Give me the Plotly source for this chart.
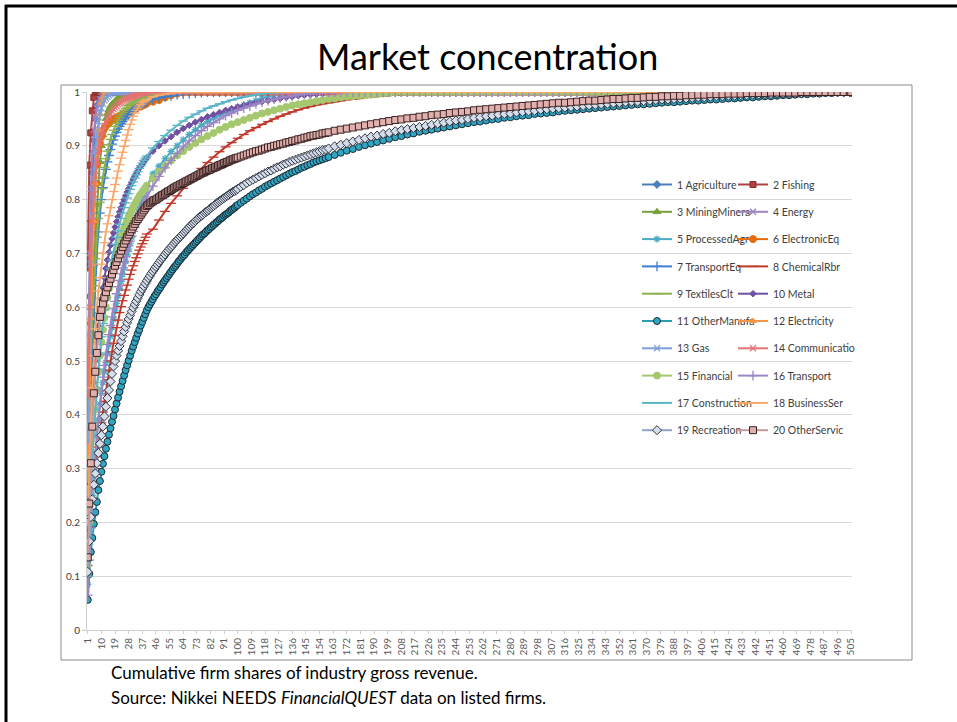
import plotly.graph_objects as go

# Ranks drawn for most industries: every firm up to rank 40, then every 4th rank.
RANKS = list(range(1, 41)) + list(range(44, 505, 4)) + [505]
# Ranks drawn for the three large industries: every firm to 100, every 2nd to 160, then every 4th.
RANKS_FINE = list(range(1, 101)) + list(range(102, 161, 2)) + list(range(164, 505, 4)) + [505]
TICK_RANKS = list(range(1, 506, 9))
TICK_LABELS = [str(r) for r in TICK_RANKS]

NAMES = [
    "1 Agriculture", "2 Fishing", "3 MiningMinera", "4 Energy", "5 ProcessedAgr",
    "6 ElectronicEq", "7 TransportEq", "8 ChemicalRbr", "9 TextilesClt", "10 Metal",
    "11 OtherManufa", "12 Electricity", "13 Gas", "14 Communicatio", "15 Financial",
    "16 Transport", "17 Construction", "18 BusinessSer", "19 Recreation", "20 OtherServic",
]

# Cumulative share of industry gross revenue (thousandths) at each drawn rank.
# Once every firm of an industry is counted the share stays at 1.
AGRICULTURE = [397, 620, 760, 850, 910, 950, 975, 990, 1000]
FISHING = [673, 864, 924, 965, 990, 1000]
MINING = [311, 450, 550, 620, 680, 735, 790, 830, 870, 900, 920, 935, 950, 960, 967, 973, 977, 980,
          983, 986, 988, 990, 992, 993, 994, 995, 996, 997, 998, 998, 999, 999, 1000]
ENERGY = [480, 700, 820, 890, 930, 955, 970, 980, 987, 992, 995, 997, 998, 999, 1000]
PROCESSED_AGR = [85, 150, 200, 250, 290, 330, 360, 390, 420, 440, 460, 480, 497, 513, 530, 546, 562, 578,
                 593, 607, 621, 635, 648, 661, 673, 685, 697, 708, 719, 730, 741, 752, 762, 772, 782, 791,
                 800, 808, 816, 824,
                 848, 862, 876, 889, 900, 911, 921, 930, 938, 945, 951, 957, 962, 967, 972, 976, 980, 984,
                 988, 991, 994, 996, 998, 999, 1000]
ELECTRONIC_EQ = [230, 420, 570, 670, 760, 830, 865, 890, 905, 917, 927, 933, 937, 940, 943, 945, 947, 949,
                 951, 952, 954, 955, 957, 958, 959, 961, 962, 963, 965, 966, 967, 968, 970, 971, 972, 973,
                 975, 976, 977, 979,
                 982, 985, 990, 994, 997, 999, 1000]
TRANSPORT_EQ = [180, 320, 430, 520, 590, 650, 700, 740, 775, 800, 822, 840, 856, 870, 882, 893, 903, 911,
                918, 925, 931, 936, 941, 945, 949, 953, 956, 959, 962, 965, 967, 969, 971, 973, 975, 977,
                978, 980, 981, 982,
                986, 989, 991, 993, 995, 996, 997, 998, 999, 1000]
CHEMICAL = [120, 170, 210, 245, 275, 300, 322, 340, 365, 385, 405, 425, 445, 465, 483, 500, 517, 533,
            548, 562, 576, 590, 601, 612, 622, 632, 641, 652, 661, 669, 677, 685, 692, 699, 706, 712,
            718, 724, 730, 736,
            745, 762, 778, 793, 807, 821, 834, 846, 858, 869, 879, 889, 898, 906, 914, 921, 928, 934,
            940, 945, 950, 955, 959, 963, 967, 970, 973, 976, 978, 980, 982, 984, 986, 987, 988, 990,
            991, 992, 993, 994, 995, 996, 997, 998, 998, 999, 999, 1000]
TEXTILES = [250, 400, 500, 580, 640, 690, 730, 765, 795, 820, 842, 860, 876, 890, 902, 912, 921, 929,
            936, 942, 948, 953, 958, 962, 966, 969, 972, 975, 977, 979, 981, 983, 985, 986, 987, 988,
            989, 990, 991, 992,
            995, 997, 998, 999, 1000]
METAL = [160, 270, 350, 410, 460, 500, 535, 565, 592, 615, 636, 655, 672, 688, 702, 715, 727, 738,
         749, 759, 768, 777, 785, 793, 800, 807, 814, 820, 826, 832, 838, 843, 848, 853, 858, 862,
         866, 870, 874, 878,
         890, 900, 909, 917, 925, 932, 938, 944, 949, 954, 958, 962, 966, 969, 972, 975, 978, 980,
         982, 984, 986, 988, 990, 991, 993, 994, 995, 996, 997, 998, 999, 1000]
OTHER_MANUFA = [56, 104, 145, 171, 197, 219, 238, 260, 277, 294, 309, 323, 337, 350, 363, 375, 387, 398,
                410, 421, 432, 443, 453, 463, 473, 483, 492, 501, 510, 519, 527, 535, 543, 551, 558, 566,
                573, 580, 587, 594,
                600, 605, 610, 615, 620, 624, 629, 633, 637, 642, 646, 650, 654, 658, 662, 666, 670, 674,
                677, 681, 685, 688, 692, 695, 698, 702, 705, 708, 711, 714, 717, 720, 723, 726, 729, 732,
                735, 737, 740, 743, 745, 748, 750, 753, 755, 758, 760, 763, 765, 767, 770, 772, 774, 776,
                779, 781, 783, 785, 788, 790,
                794, 798, 802, 806, 810, 813, 817, 820, 824, 827, 830, 833, 836, 839, 842, 845, 848, 851,
                853, 856, 859, 861, 864, 866, 869, 871, 873, 875, 877, 879,
                883, 887, 891, 894, 898, 901, 904, 907, 910, 913,
                916, 918, 921, 923, 926, 928, 930, 932, 934, 936,
                938, 940, 942, 944, 945, 947, 949, 950, 952, 953,
                955, 956, 957, 959, 960, 961, 962, 964, 965, 966,
                967, 968, 969, 970, 971, 972, 973, 974, 975, 976,
                977, 977, 978, 979, 980, 981, 981, 982, 983, 984,
                984, 985, 986, 986, 987, 988, 988, 989, 990, 990,
                991, 992, 992, 993, 994, 994, 995, 996, 996, 997,
                997, 998, 998, 999, 999, 1000]
ELECTRICITY = [300, 450, 580, 680, 760, 830, 890, 930, 960, 980, 990, 1000]
GAS = [350, 550, 680, 770, 840, 890, 920, 945, 960, 970, 978, 984, 988, 991, 994, 996, 998, 999, 1000]
COMMUNICATION = [434, 600, 700, 760, 810, 845, 870, 890, 905, 918, 928, 937, 944, 950, 955, 960, 964, 968,
                 971, 974, 977, 979, 981, 983, 985, 987, 988, 989, 990, 991, 992, 993, 994, 995, 996, 997,
                 998, 998, 999, 999, 1000]
FINANCIAL = [120, 200, 265, 320, 370, 410, 447, 480, 510, 535, 558, 580, 600, 618, 635, 651, 666, 680,
             692, 703, 713, 722, 731, 739, 747, 754, 761, 768, 774, 780, 786, 791, 796, 801, 806, 810,
             814, 818, 822, 826,
             840, 852, 863, 873, 882, 890, 898, 905, 912, 918, 924, 930, 935, 940, 944, 948, 952, 956,
             960, 963, 966, 969, 972, 975, 977, 979, 981, 983, 985, 987, 988, 990, 991, 992, 993, 994,
             995, 996, 997, 998, 999, 1000]
TRANSPORT = [65, 130, 190, 240, 285, 325, 360, 392, 420, 446, 470, 492, 512, 531, 549, 566, 582, 597,
             611, 625, 638, 650, 662, 673, 684, 694, 704, 714, 723, 732, 741, 749, 757, 765, 772, 779,
             786, 793, 799, 805,
             825, 843, 859, 873, 886, 898, 909, 919, 928, 936, 943, 950, 956, 961, 966, 970, 974, 978,
             981, 984, 987, 989, 991, 993, 995, 996, 997, 998, 999, 1000]
CONSTRUCTION = [100, 180, 250, 310, 365, 410, 450, 485, 515, 545, 570, 595, 617, 637, 655, 672, 688, 703,
                717, 730, 742, 754, 765, 775, 785, 794, 803, 811, 819, 826, 833, 840, 846, 852, 858, 863,
                868, 873, 877, 881,
                896, 908, 919, 929, 938, 946, 953, 959, 965, 970, 974, 978, 982, 985, 988, 991, 993, 995,
                997, 998, 999, 1000]
BUSINESS_SER = [200, 300, 380, 450, 510, 560, 600, 630, 655, 680, 700, 720, 740, 755, 770, 785, 800, 815,
                828, 840, 853, 865, 877, 888, 899, 910, 920, 930, 940, 948, 955, 961, 966, 970, 974, 977,
                980, 982, 984, 986,
                991, 994, 996, 998, 999, 1000]
RECREATION = [108, 165, 210, 243, 270, 291, 310, 329, 346, 362, 378, 397, 415, 431, 446, 462, 476, 490,
              500, 510, 519, 528, 537, 546, 555, 563, 571, 578, 585, 592, 599, 605, 611, 617, 623, 629,
              634, 639, 644, 649,
              654, 658, 663, 667, 671, 675, 679, 683, 687, 691, 694, 698, 702, 705, 709, 712, 715, 719,
              722, 725, 728, 731, 734, 737, 740, 743, 746, 749, 752, 755, 757, 760, 763, 765, 768, 770,
              772, 775, 777, 779, 781, 784, 786, 788, 790, 793, 795, 797, 799, 801, 803, 805, 807, 809,
              811, 813, 815, 816, 818, 820,
              824, 827, 831, 834, 837, 840, 843, 846, 849, 852, 854, 857, 860, 862, 865, 867, 870, 872,
              874, 876, 878, 880, 882, 884, 886, 888, 890, 892, 893, 895,
              899, 902, 905, 908, 911, 914, 917, 919, 922, 924,
              927, 929, 931, 933, 935, 937, 939, 941, 943, 945,
              947, 948, 950, 952, 953, 955, 956, 958, 959, 960,
              962, 963, 964, 965, 967, 968, 969, 970, 971, 972,
              973, 974, 975, 976, 977, 978, 979, 980, 981, 982,
              982, 983, 984, 985, 986, 986, 987, 988, 988, 989,
              990, 990, 991, 992, 992, 993, 993, 994, 994, 995,
              995, 996, 996, 997, 997, 998, 998, 998, 999, 999,
              999, 1000]
OTHER_SERVIC = [135, 235, 310, 378, 440, 480, 515, 548, 582, 595, 607, 618, 628, 637, 645, 653, 661, 669,
                677, 684, 691, 698, 705, 712, 718, 724, 730, 735, 740, 745, 750, 755, 760, 764, 768, 772,
                776, 780, 784, 788,
                790, 793, 795, 797, 799, 800, 802, 804, 806, 808, 809, 811, 813, 815, 816, 818, 820, 822,
                823, 825, 826, 828, 829, 831, 832, 834, 835, 837, 838, 840, 841, 843, 844, 846, 847, 849,
                850, 851, 853, 854, 855, 856, 858, 859, 860, 861, 863, 864, 865, 866, 868, 869, 870, 871,
                873, 874, 875, 876, 877, 878,
                880, 882, 884, 886, 888, 890, 891, 893, 895, 897, 898, 900, 901, 903, 904, 906, 907, 909,
                910, 912, 913, 915, 916, 918, 919, 920, 921, 923, 924, 925,
                928, 930, 932, 934, 936, 938, 940, 942, 944, 946,
                948, 949, 951, 952, 954, 955, 957, 958, 959, 961,
                962, 963, 964, 966, 967, 968, 969, 970, 971, 972,
                973, 974, 975, 976, 977, 978, 979, 980, 980, 981,
                982, 983, 984, 984, 985, 986, 987, 987, 988, 989,
                989, 990, 991, 991, 992, 992, 993, 993, 994, 994,
                995, 995, 996, 996, 996, 997, 997, 997, 998, 998,
                998, 998, 999, 999, 999, 999, 999, 1000]

SERIES = [AGRICULTURE, FISHING, MINING, ENERGY, PROCESSED_AGR, ELECTRONIC_EQ, TRANSPORT_EQ, CHEMICAL,
          TEXTILES, METAL, OTHER_MANUFA, ELECTRICITY, GAS, COMMUNICATION, FINANCIAL, TRANSPORT,
          CONSTRUCTION, BUSINESS_SER, RECREATION, OTHER_SERVIC]
FINE_SERIES = {"11 OtherManufa", "19 Recreation", "20 OtherServic"}

# line colour, marker symbol, marker size, marker fill, marker outline
STYLES = [
    ("#4A7EBB", "diamond", 6, "#4A7EBB", "#4A7EBB"),
    ("#B0413E", "square", 6, "#B0413E", "#8C2F2C"),
    ("#77A03A", "triangle-up", 7, "#77A03A", "#77A03A"),
    ("#9C85C0", "x-thin", 6, "#9C85C0", "#9C85C0"),
    ("#4BACC6", "asterisk", 6, "#4BACC6", "#4BACC6"),
    ("#E46C0A", "circle", 7, "#E46C0A", "#E46C0A"),
    ("#3D7FD0", "cross-thin", 7, "#3D7FD0", "#3D7FD0"),
    ("#C0392B", "line-ew", 7, "#C0392B", "#C0392B"),
    ("#8DB04E", "line-ew", 7, "#8DB04E", "#8DB04E"),
    ("#7050A0", "diamond", 5, "#7050A0", "#7050A0"),
    ("#2C9CB5", "circle", 7, "#31A6C4", "#1E2A30"),
    ("#F79646", "triangle-up", 6, "#F79646", "#F79646"),
    ("#7F9FDA", "x-thin", 6, "#7F9FDA", "#7F9FDA"),
    ("#E57373", "x-thin", 6, "#E57373", "#E57373"),
    ("#A5C86F", "circle", 7, "#A5C86F", "#A5C86F"),
    ("#9B85C4", "cross-thin", 7, "#9B85C4", "#9B85C4"),
    ("#5BB5C8", "line-ew", 7, "#5BB5C8", "#5BB5C8"),
    ("#F9A86B", "line-ew", 7, "#F9A86B", "#F9A86B"),
    ("#8EA4C8", "diamond", 7, "#D5DDEA", "#2E3440"),
    ("#C89A96", "square", 7, "#E0B0AE", "#3A2222"),
]

OPEN_SYMBOLS = {"x-thin", "cross-thin", "asterisk", "line-ew"}

W, H = 957, 722
PLOT_L, PLOT_R, PLOT_T, PLOT_B = 87, 852, 92, 630
FONT = "Lato, Open Sans, sans-serif"


def px_x(x):
    return (x - PLOT_L) / (PLOT_R - PLOT_L)


def px_y(y):
    return (PLOT_B - y) / (PLOT_B - PLOT_T)


fig = go.Figure()
for i, (name, vals) in enumerate(zip(NAMES, SERIES)):
    line_c, sym, size, fill, edge = STYLES[i]
    ranks = RANKS_FINE if name in FINE_SERIES else RANKS
    y = [v / 1000 for v in vals] + [1.0] * (len(ranks) - len(vals))
    lw = 1.3 if sym in OPEN_SYMBOLS else 1
    fig.add_trace(go.Scatter(
        x=ranks, y=y, name=name, mode="lines+markers",
        line=dict(color=line_c, width=2),
        marker=dict(symbol=sym, size=size, color=fill, line=dict(width=lw, color=edge)),
        legend="legend" if i % 2 == 0 else "legend2",
        legendgroup=name, hoverinfo="skip",
    ))

legend_common = dict(
    bgcolor="rgba(0,0,0,0)", borderwidth=0, yanchor="top", xanchor="left",
    font=dict(family=FONT, size=10.5, color="#404040"),
    itemwidth=30, tracegroupgap=8.3,
)

fig.update_layout(
    width=W, height=H,
    margin=dict(l=PLOT_L, r=W - PLOT_R, t=PLOT_T, b=H - PLOT_B),
    paper_bgcolor="white", plot_bgcolor="white",
    font=dict(family=FONT, color="#404040"),
    showlegend=True,
    legend=dict(x=px_x(637), y=px_y(170), **legend_common),
    legend2=dict(x=px_x(733), y=px_y(170), **legend_common),
    xaxis=dict(
        range=[0.5, 505.5], tickmode="array", tickvals=TICK_RANKS, ticktext=TICK_LABELS,
        tickangle=-90, tickfont=dict(size=10, color="#595959"),
        showgrid=False, showline=True, linecolor="#D0D0D0", linewidth=1,
        ticks="outside", ticklen=3, tickcolor="#D0D0D0", zeroline=False,
    ),
    yaxis=dict(
        range=[0, 1], tickmode="array", tickvals=[i / 10 for i in range(11)],
        ticktext=["0"] + [f"0.{i}" for i in range(1, 10)] + ["1"],
        tickfont=dict(size=10, color="#404040"),
        showgrid=True, gridcolor="#D9D9D9", gridwidth=1,
        showline=True, linecolor="#D0D0D0", linewidth=1,
        ticks="outside", ticklen=4, tickcolor="#D0D0D0", zeroline=False,
    ),
    shapes=[
        # slide frame
        dict(type="line", xref="paper", yref="paper", x0=px_x(5), x1=px_x(965), y0=px_y(6), y1=px_y(6),
             line=dict(color="black", width=3)),
        dict(type="line", xref="paper", yref="paper", x0=px_x(6), x1=px_x(6), y0=px_y(5), y1=px_y(730),
             line=dict(color="black", width=3)),
        # chart frame
        dict(type="rect", xref="paper", yref="paper", x0=px_x(61), x1=px_x(912), y0=px_y(660), y1=px_y(85),
             line=dict(color="#8C8C8C", width=1), layer="below"),
    ],
    annotations=[
        dict(text="Market concentration", xref="paper", yref="paper", x=px_x(487), y=px_y(56),
             xanchor="center", yanchor="middle", showarrow=False,
             font=dict(family=FONT, size=36, color="black")),
        dict(text="Cumulative firm shares of industry gross revenue.", xref="paper", yref="paper",
             x=px_x(109), y=px_y(672), xanchor="left", yanchor="middle", showarrow=False,
             font=dict(family=FONT, size=17, color="black")),
        dict(text="Source: Nikkei NEEDS <i>FinancialQUEST</i> data on listed firms.", xref="paper", yref="paper",
             x=px_x(109), y=px_y(697), xanchor="left", yanchor="middle", showarrow=False,
             font=dict(family=FONT, size=17, color="black")),
    ],
)

fig.write_html("out.html")
